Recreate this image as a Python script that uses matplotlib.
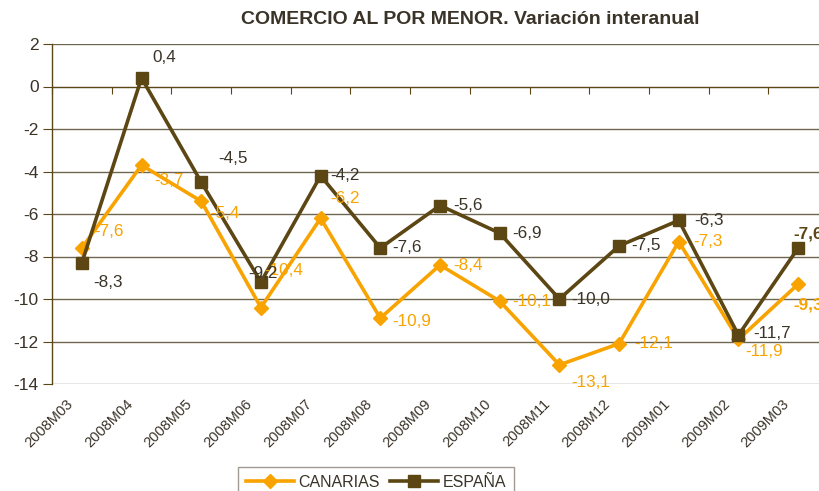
import matplotlib
matplotlib.use("Agg")
import matplotlib.pyplot as plt
import numpy as np

plt.rcParams['font.family'] = ['Liberation Sans', 'DejaVu Sans']

categories = ["2008M03", "2008M04", "2008M05", "2008M06", "2008M07", "2008M08",
              "2008M09", "2008M10", "2008M11", "2008M12", "2009M01", "2009M02", "2009M03"]
canarias = [-7.6, -3.7, -5.4, -10.4, -6.2, -10.9, -8.4, -10.1, -13.1, -12.1, -7.3, -11.9, -9.3]
espana = [-8.3, 0.4, -4.5, -9.2, -4.2, -7.6, -5.6, -6.9, -10.0, -7.5, -6.3, -11.7, -7.6]
yticks = list(range(-14, 3, 2))

# label offsets in pixels (left edge of text, vertical centre) relative to the point
can_off = [(12, 16), (13, -15), (9, -12), (3, 37), (10, 20), (12, -3), (13, 0),
           (13, 0), (12, -18), (15, 0), (14, 0), (7, -12), (-5, -21)]
esp_off = [(11, -20), (11, 21), (17, 24), (-13, 9), (10, 0), (12, 0), (13, 0),
           (13, 0), (12, 0), (12, 0), (15, 0), (15, 2), (-5, 14)]

ORANGE = "#F8A300"
BROWN = "#5B4614"
GRID = "#6E6651"
TEXT = "#3a3328"

fig = plt.figure(figsize=(8.19, 4.91), dpi=100)
ax = fig.add_axes([52 / 819, 1 - 384 / 491, (828 - 52) / 819, (384 - 44) / 491])

x = np.arange(len(categories))
ax.plot(x, canarias, color=ORANGE, lw=2.6, marker='D', ms=7.5, label="CANARIAS", zorder=3)
ax.plot(x, espana, color=BROWN, lw=2.6, marker='s', ms=8.5, label="ESPAÑA", zorder=4)

def fmt(v):
    return ("%.1f" % v).replace(".", ",")

LBL = 12.3
for i, v in enumerate(canarias):
    bold = i == len(canarias) - 1
    ax.annotate(fmt(v), (x[i], v), xytext=can_off[i], textcoords='offset pixels',
                ha='left', va='center', color=ORANGE, fontsize=LBL,
                fontweight='bold' if bold else 'normal', zorder=5, annotation_clip=False)
for i, v in enumerate(espana):
    bold = i == len(espana) - 1
    ax.annotate(fmt(v), (x[i], v), xytext=esp_off[i], textcoords='offset pixels',
                ha='left', va='center', color=BROWN if bold else TEXT, fontsize=LBL,
                fontweight='bold' if bold else 'normal', zorder=5, annotation_clip=False)

ax.set_xlim(-0.5, len(categories) - 0.5)
ax.set_ylim(-14, 2)
ax.set_yticks(yticks)
ax.set_yticklabels([str(t) for t in yticks], fontsize=12.5, color=TEXT)
ax.tick_params(axis='y', direction='out', length=6.5, color=BROWN, pad=3)

for t in yticks:
    ax.axhline(t, color=("#8a8478" if t == -14 else GRID), lw=1.0, zorder=1)

for s in ['top', 'right']:
    ax.spines[s].set_visible(False)
ax.spines['left'].set_color(BROWN)
ax.spines['left'].set_linewidth(1.0)
ax.spines['bottom'].set_position(('data', 0))
ax.spines['bottom'].set_color(BROWN)
ax.set_xticks(np.arange(len(categories) + 1) - 0.5)
ax.tick_params(axis='x', direction='out', length=5, color=BROWN, labelbottom=False)

for i, c in enumerate(categories):
    ax.annotate(c, (x[i], 0), xycoords=('data', 'axes fraction'), xytext=(-6, -13),
                textcoords='offset pixels', rotation=45, ha='right', va='top',
                fontsize=10.5, color=TEXT, annotation_clip=False)

fig.text(470 / 819, 1 - 20 / 491, "COMERCIO AL POR MENOR. Variación interanual",
         ha='center', va='center', fontsize=14, fontweight='bold', color=TEXT)

leg = fig.legend(loc='upper center', bbox_to_anchor=(376 / 819, 1 - 459 / 491), ncol=2,
                 fontsize=11.5, frameon=True, fancybox=False, edgecolor="#8a8478",
                 handlelength=3.0, columnspacing=0.6, handletextpad=0.3, borderpad=0.5)
leg.get_frame().set_linewidth(1.0)
for t in leg.get_texts():
    t.set_color(TEXT)

fig.savefig("out.png", dpi=100)
